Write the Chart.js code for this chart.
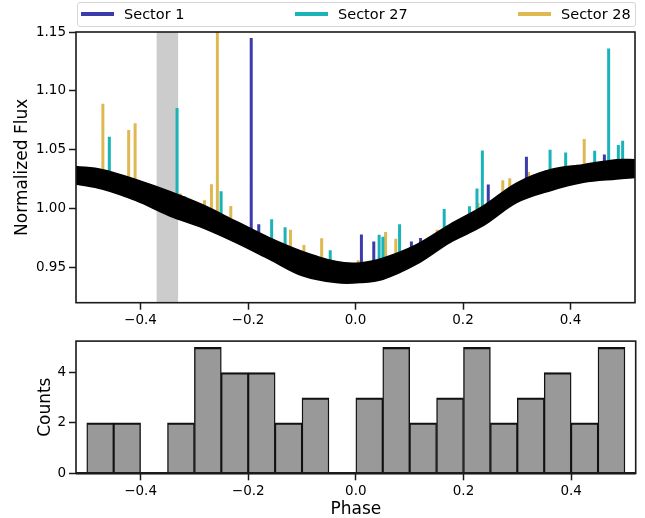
<!DOCTYPE html>
<html>
<head>
<meta charset="utf-8">
<script src="https://cdn.jsdelivr.net/npm/chart.js@4.4.0/dist/chart.umd.min.js"></script>
<style>
  body { margin: 0; background: #fff; width: 645px; height: 518px; position: relative; overflow: hidden; font-family: "DejaVu Sans", sans-serif; }
  #topWrap { position: absolute; left: 0; top: 0; width: 645px; height: 330px; }
  #botWrap { position: absolute; left: 0; top: 330px; width: 645px; height: 188px; }
  #legend { position: absolute; left: 77px; top: 2px; width: 557px; height: 23px; border: 1px solid #d6d6d6; border-radius: 3px; background: #fff; }
  .item { position: absolute; top: 0; height: 23px; line-height: 23px; font-size: 14.5px; color: #000; white-space: nowrap; }
  .item i { display: inline-block; width: 33px; height: 3.5px; vertical-align: middle; margin-right: 10px; position: relative; top: -1px; }
</style>
</head>
<body>
<div id="topWrap"><canvas id="fluxChart"></canvas></div>
<div id="botWrap"><canvas id="histChart"></canvas></div>
<div id="legend"></div>
<script>
// axis ticks
const xTicks = [-0.4, -0.2, 0.0, 0.2, 0.4];
const fluxTicks = [0.95, 1.00, 1.05, 1.10, 1.15];
const countTicks = [0, 2, 4];

const sectorNames = ['Sector 1', 'Sector 27', 'Sector 28'];
const sectorColors = ['#3b3ca9', '#19b3b8', '#e0b852'];

// phase-folded light curve, read as upper / lower edge of the black band
const bandPhase = [-0.52, -0.471, -0.408, -0.346, -0.285, -0.222, -0.160, -0.098, -0.036, 0.008,
                   0.051, 0.113, 0.175, 0.237, 0.300, 0.362, 0.424, 0.486, 0.52];
const bandUpper = [1.0354, 1.0326, 1.0241, 1.0141, 1.0028, 0.9886, 0.9747, 0.9630, 0.9545, 0.9534,
                   0.9574, 0.9687, 0.9858, 1.0014, 1.0213, 1.0326, 1.0369, 1.0411, 1.0411];
const bandLower = [1.0213, 1.0170, 1.0071, 0.9943, 0.9843, 0.9715, 0.9574, 0.9432, 0.9375, 0.9375,
                   0.9404, 0.9531, 0.9715, 0.9858, 1.0056, 1.0156, 1.0227, 1.0256, 1.0269];

// flares per sector: phase, flux at start, peak flux
const s1Phase = [-0.194, -0.180, -0.126, -0.075, 0.011, 0.034, 0.104, 0.121, 0.247, 0.268, 0.305, 0.318, 0.355, 0.463];
const s1Base  = [0.973, 0.970, 0.958, 0.950, 0.946, 0.947, 0.958, 0.962, 0.995, 1.001, 1.011, 1.014, 1.022, 1.032];
const s1Peak  = [1.145, 0.9866, 0.968, 0.960, 0.978, 0.972, 0.972, 0.975, 1.0204, 1.000, 1.021, 1.044, 1.0325, 1.046];

const s27Phase = [-0.458, -0.332, -0.318, -0.250, -0.185, -0.156, -0.131, -0.047, -0.006, 0.044, 0.051, 0.082,
                  0.165, 0.212, 0.226, 0.236, 0.362, 0.391, 0.445, 0.471, 0.489, 0.497];
const s27Base  = [1.024, 1.003, 1.001, 0.986, 0.971, 0.965, 0.960, 0.947, 0.945, 0.948, 0.949, 0.953,
                  0.975, 0.988, 0.991, 0.993, 1.024, 1.027, 1.031, 1.033, 1.033, 1.034];
const s27Peak  = [1.061, 1.0855, 1.0105, 1.0147, 0.980, 0.9909, 0.984, 0.9645, 0.953, 0.9778, 0.976, 0.9866,
                  0.9997, 1.002, 1.017, 1.0494, 1.050, 1.0477, 1.049, 1.136, 1.054, 1.0576];

const s28Phase = [-0.470, -0.422, -0.410, -0.326, -0.299, -0.281, -0.268, -0.257, -0.232, -0.121, -0.096, -0.079,
                  -0.063, 0.005, 0.056, 0.075, 0.152, 0.228, 0.274, 0.287, 0.322, 0.413, 0.4255];
const s28Base  = [1.025, 1.018, 1.016, 1.002, 0.997, 0.993, 0.990, 0.988, 0.983, 0.958, 0.953, 0.950,
                  0.948, 0.945, 0.950, 0.952, 0.972, 0.991, 1.004, 1.008, 1.016, 1.029, 1.030];
const s28Peak  = [1.089, 1.0667, 1.0724, 1.0128, 1.006, 1.007, 1.0207, 1.16, 1.0022, 0.982, 0.969, 0.961,
                  0.9747, 0.956, 0.980, 0.9744, 0.982, 1.0046, 1.024, 1.0258, 1.031, 1.0375, 1.059];

const shadeSpan = [-0.37, -0.33];

// histogram of flare phases
const binCenters = [-0.475, -0.425, -0.375, -0.325, -0.275, -0.225, -0.175, -0.125, -0.075, -0.025,
                    0.025, 0.075, 0.125, 0.175, 0.225, 0.275, 0.325, 0.375, 0.425, 0.475];
const binCounts = [2, 2, 0, 2, 5, 4, 4, 2, 3, 0, 3, 5, 2, 3, 5, 2, 3, 4, 2, 5];

const FONT = 'DejaVu Sans';
const tickFont = { family: FONT, size: 13.5 };
const titleFont = { family: FONT, size: 17, lineHeight: 1.2 };

// legend
const legendEl = document.getElementById('legend');
const legendLeft = [3, 217, 440];
sectorNames.forEach((name, i) => {
  const d = document.createElement('div');
  d.className = 'item';
  d.style.left = legendLeft[i] + 'px';
  d.innerHTML = '<i style="background:' + sectorColors[i] + '"></i>' + name;
  legendEl.appendChild(d);
});

function flareSegments(phase, base, peak) {
  const pts = [];
  phase.forEach((p, i) => {
    pts.push({ x: p, y: base[i] });
    pts.push({ x: p, y: peak[i] });
    pts.push({ x: p, y: null });
  });
  return pts;
}

function fmtPhase(v) {
  const r = Math.round(v * 10) / 10;
  return (r < 0 ? '\u2212' : '') + Math.abs(r).toFixed(1);
}

// box round the plot area
const framePlugin = {
  id: 'frame',
  afterDraw(chart, args, opts) {
    const { ctx, chartArea: a } = chart;
    ctx.save();
    ctx.strokeStyle = '#1a1a1a';
    ctx.lineWidth = 1.6;
    ctx.strokeRect(a.left, a.top, a.right - a.left, a.bottom - a.top);
    if (opts.thickBottom) {
      ctx.lineWidth = 2.6;
      ctx.beginPath();
      ctx.moveTo(a.left, a.bottom);
      ctx.lineTo(a.right, a.bottom);
      ctx.stroke();
    }
    ctx.restore();
  }
};

const shadePlugin = {
  id: 'shade',
  beforeDatasetsDraw(chart) {
    const { ctx, chartArea: a, scales } = chart;
    const x0 = scales.x.getPixelForValue(shadeSpan[0]);
    const x1 = scales.x.getPixelForValue(shadeSpan[1]);
    ctx.save();
    ctx.fillStyle = '#cccccc';
    ctx.fillRect(x0, a.top, x1 - x0, a.bottom - a.top);
    ctx.restore();
  }
};

const tickGrid = { display: true, offset: false, drawOnChartArea: false, drawTicks: true, tickLength: 7, tickColor: '#1a1a1a', tickWidth: 1.5 };

// light curve
const bandPoints = arr => bandPhase.map((p, i) => ({ x: p, y: arr[i] }));
const flareSets = [
  [s1Phase, s1Base, s1Peak],
  [s27Phase, s27Base, s27Peak],
  [s28Phase, s28Base, s28Peak]
].map((s, i) => ({
  data: flareSegments(s[0], s[1], s[2]),
  borderColor: sectorColors[i],
  borderWidth: 3,
  borderCapStyle: 'butt',
  pointRadius: 0,
  spanGaps: false,
  fill: false,
  clip: 0
}));

new Chart(document.getElementById('fluxChart'), {
  type: 'line',
  data: {
    datasets: [
      { data: bandPoints(bandUpper), borderColor: '#000', backgroundColor: '#000', borderWidth: 2.5, pointRadius: 0, tension: 0.35, fill: '+1' },
      { data: bandPoints(bandLower), borderColor: '#000', borderWidth: 2.5, pointRadius: 0, tension: 0.35, fill: false },
      ...flareSets
    ]
  },
  options: {
    responsive: true,
    maintainAspectRatio: false,
    animation: false,
    layout: { padding: { top: 32, right: 10, left: 0, bottom: 0 } },
    plugins: { legend: { display: false }, tooltip: { enabled: false }, frame: {} },
    scales: {
      x: {
        type: 'linear', min: -0.52, max: 0.52,
        afterBuildTicks: s => { s.ticks = xTicks.map(v => ({ value: v })); },
        afterFit: s => { s.height = 27.3; },
        grid: tickGrid,
        border: { display: false },
        ticks: { font: tickFont, color: '#000', padding: 3, maxRotation: 0, callback: v => fmtPhase(v) }
      },
      y: {
        type: 'linear', min: 0.92, max: 1.15,
        afterBuildTicks: s => { s.ticks = fluxTicks.map(v => ({ value: v })); },
        afterFit: s => { s.width = 76; },
        grid: tickGrid,
        border: { display: false },
        ticks: { font: tickFont, color: '#000', padding: 3, callback: v => v.toFixed(2) },
        title: { display: true, text: 'Normalized Flux', font: titleFont, color: '#000', padding: { top: 12, bottom: 0 } }
      }
    }
  },
  plugins: [shadePlugin, framePlugin]
});

// histogram
new Chart(document.getElementById('histChart'), {
  type: 'bar',
  data: {
    datasets: [{
      data: binCenters.map((c, i) => ({ x: c, y: binCounts[i] })),
      backgroundColor: '#999999',
      borderColor: '#111',
      borderWidth: { top: 2.2, left: 1.4, right: 1.4, bottom: 0 },
      borderSkipped: 'start',
      barPercentage: 1,
      categoryPercentage: 1
    }]
  },
  options: {
    responsive: true,
    maintainAspectRatio: false,
    animation: false,
    layout: { padding: { top: 7.3, right: 9.3, left: 0, bottom: 0 } },
    plugins: { legend: { display: false }, tooltip: { enabled: false }, frame: { thickBottom: true } },
    scales: {
      x: {
        type: 'linear', min: -0.52, max: 0.52, offset: false,
        afterBuildTicks: s => { s.ticks = xTicks.map(v => ({ value: v })); },
        afterFit: s => { s.height = 44.7; },
        grid: tickGrid,
        border: { display: false },
        ticks: { font: tickFont, color: '#000', padding: 3, maxRotation: 0, callback: v => fmtPhase(v) },
        title: { display: true, text: 'Phase', font: titleFont, color: '#000', padding: { top: 0, bottom: -1.5 } }
      },
      y: {
        type: 'linear', min: 0, max: 5.25,
        afterBuildTicks: s => { s.ticks = countTicks.map(v => ({ value: v })); },
        afterFit: s => { s.width = 76; },
        grid: tickGrid,
        border: { display: false },
        ticks: { font: tickFont, color: '#000', padding: 3, callback: v => String(v) },
        title: { display: true, text: 'Counts', font: titleFont, color: '#000', padding: { top: 35, bottom: 0 } }
      }
    }
  },
  plugins: [framePlugin]
});
</script>
</body>
</html>
